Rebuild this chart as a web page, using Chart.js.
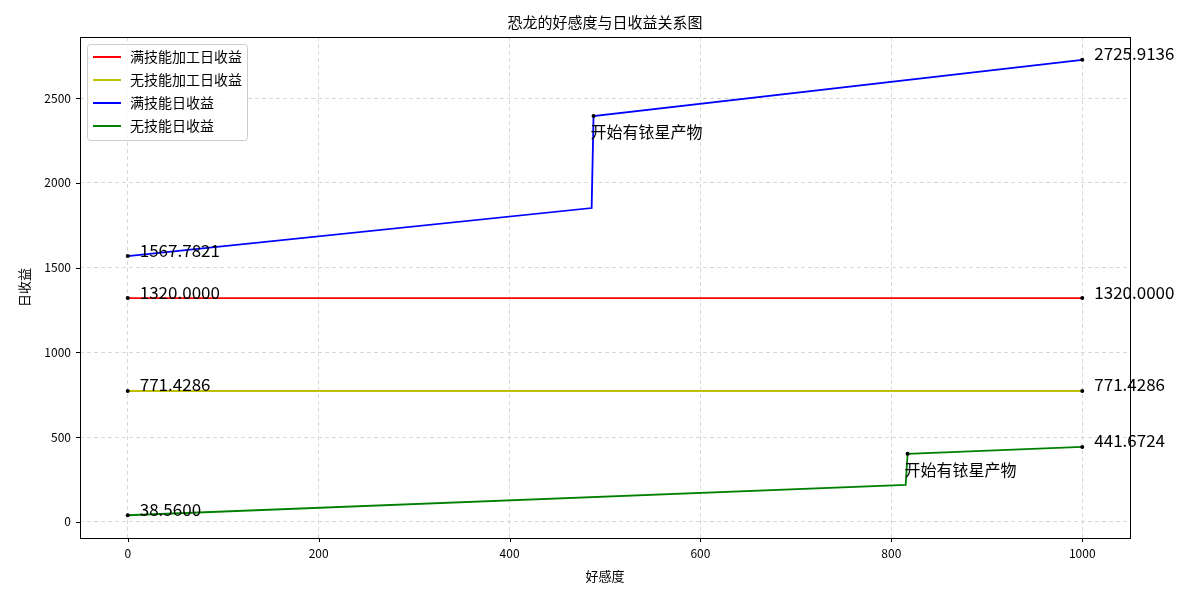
<html>
<head>
<meta charset="UTF-8">
<title>恐龙的好感度与日收益关系图</title>
<script src="https://cdn.jsdelivr.net/npm/chart.js"></script>
<style>
  body { margin: 0; background: #fff; }
  #wrap { width: 1200px; height: 600px; }
</style>
</head>
<body>
<div id="wrap"><canvas id="chart" width="1200" height="600"></canvas></div>
<script>
// data
const seriesNames = ['满技能加工日收益', '无技能加工日收益', '满技能日收益', '无技能日收益'];
const redX = [0, 1000];
const redY = [1320.0, 1320.0];
const yellowX = [0, 1000];
const yellowY = [771.4286, 771.4286];
const blueX = [0, 486, 488, 1000];
const blueY = [1567.7821, 1851, 2394, 2725.9136];
const greenX = [0, 815, 817, 1000];
const greenY = [38.56, 218, 401, 441.6724];
const xTicks = [0, 200, 400, 600, 800, 1000];
const yTicks = [0, 500, 1000, 1500, 2000, 2500];
const jumpNote = '开始有铱星产物';

const FONT = '"Noto Sans CJK SC", "Noto Sans", sans-serif';

function pts(xs, ys) { return xs.map((x, i) => ({ x: x, y: ys[i] })); }

const datasets = [
    { label: seriesNames[0], data: pts(redX, redY), borderColor: '#ff0000', pointRadius: [2, 2], marks: [0, 1] },
    { label: seriesNames[1], data: pts(yellowX, yellowY), borderColor: '#bfbf00', pointRadius: [2, 2], marks: [0, 1] },
    { label: seriesNames[2], data: pts(blueX, blueY), borderColor: '#0000ff', pointRadius: [2, 0, 2, 2], marks: [0, 3], note: 2 },
    { label: seriesNames[3], data: pts(greenX, greenY), borderColor: '#008000', pointRadius: [2, 0, 2, 2], marks: [0, 3], note: 2 }
].map(d => Object.assign(d, {
    borderWidth: 1.8,
    pointBackgroundColor: '#000',
    pointBorderColor: '#000',
    pointBorderWidth: 0,
    fill: false,
    tension: 0
}));

const overlay = {
    id: 'overlay',
    afterDraw(chart) {
        const ctx = chart.ctx;
        const a = chart.chartArea;
        const xs = chart.scales.x, ys = chart.scales.y;
        ctx.save();
        // frame
        ctx.strokeStyle = '#000';
        ctx.lineWidth = 1;
        ctx.strokeRect(a.left + 0.5, a.top + 0.5, a.right - a.left, a.bottom - a.top);
        // tick marks
        ctx.beginPath();
        xTicks.forEach(t => { const p = Math.round(xs.getPixelForValue(t)) + 0.5; ctx.moveTo(p, a.bottom); ctx.lineTo(p, a.bottom + 4); });
        yTicks.forEach(t => { const p = Math.round(ys.getPixelForValue(t)) + 0.5; ctx.moveTo(a.left, p); ctx.lineTo(a.left - 4, p); });
        ctx.stroke();
        // title & axis titles
        ctx.fillStyle = '#000';
        ctx.textAlign = 'center';
        ctx.textBaseline = 'middle';
        ctx.font = '15px ' + FONT;
        ctx.fillText('恐龙的好感度与日收益关系图', (a.left + a.right) / 2, 22);
        ctx.font = '13px ' + FONT;
        ctx.fillText('好感度', (a.left + a.right) / 2, 576);
        ctx.save();
        ctx.translate(24, (a.top + a.bottom) / 2);
        ctx.rotate(-Math.PI / 2);
        ctx.fillText('日收益', 0, 0);
        ctx.restore();
        // value labels and notes
        ctx.textAlign = 'left';
        chart.data.datasets.forEach(ds => {
            ctx.font = '17px ' + FONT;
            ds.marks.forEach(i => {
                const p = ds.data[i];
                ctx.fillText(p.y.toFixed(4), xs.getPixelForValue(p.x) + 12, ys.getPixelForValue(p.y) - 6);
            });
            if (ds.note !== undefined) {
                const p = ds.data[ds.note];
                ctx.font = '16px ' + FONT;
                ctx.fillText(jumpNote, xs.getPixelForValue(p.x) - 3, ys.getPixelForValue(p.y) + 16);
            }
        });
        // legend
        const lx = 87, ly = 44, lw = 160, lh = 96;
        ctx.fillStyle = 'rgba(255,255,255,0.8)';
        ctx.strokeStyle = '#cccccc';
        ctx.beginPath();
        ctx.roundRect(lx + 0.5, ly + 0.5, lw, lh, 3);
        ctx.fill();
        ctx.stroke();
        ctx.font = '14px ' + FONT;
        ctx.textBaseline = 'middle';
        chart.data.datasets.forEach((ds, i) => {
            const y = ly + 13 + i * 23;
            ctx.strokeStyle = ds.borderColor;
            ctx.lineWidth = 2;
            ctx.beginPath();
            ctx.moveTo(lx + 6, y);
            ctx.lineTo(lx + 34, y);
            ctx.stroke();
            ctx.fillStyle = '#000';
            ctx.fillText(ds.label, lx + 43, y);
        });
        ctx.restore();
    }
};

new Chart(document.getElementById('chart').getContext('2d'), {
    type: 'line',
    data: { datasets: datasets },
    options: {
        responsive: false,
        animation: false,
        events: [],
        layout: { padding: { top: 37, right: 70, left: 0, bottom: 0 } },
        plugins: { legend: { display: false }, title: { display: false }, tooltip: { enabled: false } },
        scales: {
            x: {
                type: 'linear',
                min: -50,
                max: 1050,
                afterBuildTicks: s => { s.ticks = xTicks.map(v => ({ value: v })); },
                afterFit: s => { s.height = 62; },
                grid: { color: '#d9d9d9', drawTicks: false },
                border: { display: false, dash: [4, 3] },
                ticks: { color: '#000', padding: 8, font: { size: 12, family: FONT }, maxRotation: 0, callback: v => String(v) }
            },
            y: {
                min: -95.8,
                max: 2860.3,
                afterBuildTicks: s => { s.ticks = yTicks.map(v => ({ value: v })); },
                afterFit: s => { s.width = 80; },
                grid: { color: '#d9d9d9', drawTicks: false },
                border: { display: false, dash: [4, 3] },
                ticks: { color: '#000', padding: 9, font: { size: 12, family: FONT }, callback: v => String(v) }
            }
        }
    },
    plugins: [overlay]
});
</script>
</body>
</html>
